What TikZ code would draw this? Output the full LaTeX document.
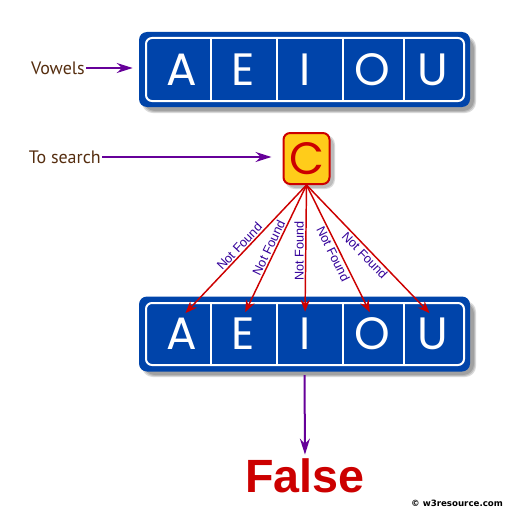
\documentclass[tikz,border=0pt]{standalone}
\usepackage{fontspec}
\setmainfont{PT Sans}
\newfontfamily\signfont{Poppins}
\newfontfamily\arialfont{Liberation Sans}
\newfontfamily\copyfont{DejaVu Sans}
\usetikzlibrary{arrows.meta}

\definecolor{boxblue}{RGB}{0,68,170}
\definecolor{arrowpurple}{RGB}{102,0,153}
\definecolor{labelbrown}{RGB}{85,45,15}
\definecolor{searchred}{RGB}{204,0,0}
\definecolor{searchyellow}{RGB}{255,204,26}
\definecolor{notblue}{RGB}{51,0,153}

\tikzset{
  signbox/.style={fill=boxblue, rounded corners=6pt, minimum width=248.25pt, minimum height=56.25pt, inner sep=0pt},
  signletter/.style={text=white, font=\signfont\fontsize{34}{34}\selectfont, inner sep=0pt, text height=24pt, text depth=0pt},
  signline/.style={white, line width=1.5pt},
  cbox/.style={fill=searchyellow, draw=searchred, line width=1.5pt, rounded corners=5pt, minimum width=34.5pt, minimum height=38.25pt, inner sep=0pt, text=searchred, font=\signfont\fontsize{34}{34}\selectfont, text height=24pt, text depth=0pt},
  sidelabel/.style={text=labelbrown, font=\fontsize{13.5}{13.5}\selectfont, inner sep=0.75pt},
  purplearrow/.style={arrowpurple, line width=1.5pt, -{Stealth[length=12pt, width=7.5pt, inset=4pt]}},
  redarrow/.style={searchred, line width=1.1pt, -{Stealth[length=9pt, width=7pt, inset=3pt]}, shorten >=3.75pt},
  nflabel/.style={text=notblue, font=\arialfont\fontsize{9.5}{9.5}\selectfont, inner sep=1pt, pos=0.5},
  shadowlayer/.style={fill=black, opacity=0.14}
}

\begin{document}
\begin{tikzpicture}[x=0.75pt,y=0.75pt,yscale=-1]
\useasboundingbox (0,0) rectangle (510,510);

%Shape: Shadow
\fill [shadowlayer, rounded corners=8] (142,36) rectangle (476,113);
\fill [shadowlayer, rounded corners=8] (143,37) rectangle (475,112);
\fill [shadowlayer, rounded corners=8] (144,38) rectangle (474,111);
\fill [shadowlayer, rounded corners=8] (142,301) rectangle (476,377);
\fill [shadowlayer, rounded corners=8] (143,302) rectangle (475,376);
\fill [shadowlayer, rounded corners=8] (144,303) rectangle (474,375);
\fill [shadowlayer, rounded corners=7] (285,135) rectangle (335,189);
\fill [shadowlayer, rounded corners=7] (286,136) rectangle (334,188);

%Shape: Rounded Rect
\node (vowtop) [signbox] at (304.5,69.5) {};
\node (vowbot) [signbox] at (304.5,334) {};

%Shape: Inner Border
\draw [signline, rounded corners=4.5pt] (146,38) rectangle (464,101);
\draw [signline, rounded corners=4.5pt] (146,303) rectangle (464,365);

%Straight Lines
\draw [signline, line width=1.2pt] (211,38) -- (211,101);
\draw [signline, line width=1.2pt] (277,38) -- (277,101);
\draw [signline, line width=1.2pt] (343,38) -- (343,101);
\draw [signline, line width=1.2pt] (404,38) -- (404,101);
\draw [signline, line width=1.2pt] (211,303) -- (211,365);
\draw [signline, line width=1.2pt] (277,303) -- (277,365);
\draw [signline, line width=1.2pt] (343,303) -- (343,365);
\draw [signline, line width=1.2pt] (404,303) -- (404,365);

% Text Node
\node (tA) [signletter] at (182,69) {A};
\node (tE) [signletter] at (243,69) {E};
\node (tI) [signletter] at (305,69) {I};
\node (tO) [signletter] at (372,69) {O};
\node (tU) [signletter] at (433,69) {U};
\node (bA) [signletter] at (182,333) {A};
\node (bE) [signletter] at (243,333) {E};
\node (bI) [signletter] at (305,333) {I};
\node (bO) [signletter] at (372,333) {O};
\node (bU) [signletter] at (433,333) {U};

% Text Node
\node (csrch) [cbox] at (306.5,158.5) {C};

% Text Node
\node (vow) [sidelabel, anchor=east] at (86,68) {Vowels};
\node (srch) [sidelabel, anchor=east] at (102,157) {To search};
\node (fls) [text=searchred, font=\arialfont\bfseries\fontsize{35}{35}\selectfont, inner sep=0.75pt] at (305,476) {False};
\node (cpy) [font=\copyfont\bfseries\fontsize{6.5}{6.5}\selectfont, inner sep=0.75pt] at (457,503) {\textcopyright{} w3resource.com};

%Straight Lines
\draw [purplearrow, shorten >=4.5pt] (vow.east) -- (vow.east -| vowtop.west);
\draw [purplearrow, shorten >=8.25pt] (srch.east) -- (srch.east -| csrch.west);
\draw [purplearrow, shorten <=2.6pt, shorten >=2.25pt] (vowbot.south) -- (fls.north);

%Straight Lines
\draw [redarrow] (csrch.south) -- node [nflabel, rotate=46.7, anchor=south] {Not Found} (bA.north);
\draw [redarrow] (csrch.south) -- node [nflabel, rotate=64.3, anchor=south] {Not Found} (bE.north);
\draw [redarrow] (csrch.south) -- node [nflabel, rotate=90, anchor=south] {Not Found} (bI.north);
\draw [redarrow] (csrch.south) -- node [nflabel, rotate=-63.6, anchor=north] {Not Found} (bO.north);
\draw [redarrow] (csrch.south) -- node [nflabel, rotate=-46.2, anchor=north] {Not Found} (bU.north);

\end{tikzpicture}
\end{document}
